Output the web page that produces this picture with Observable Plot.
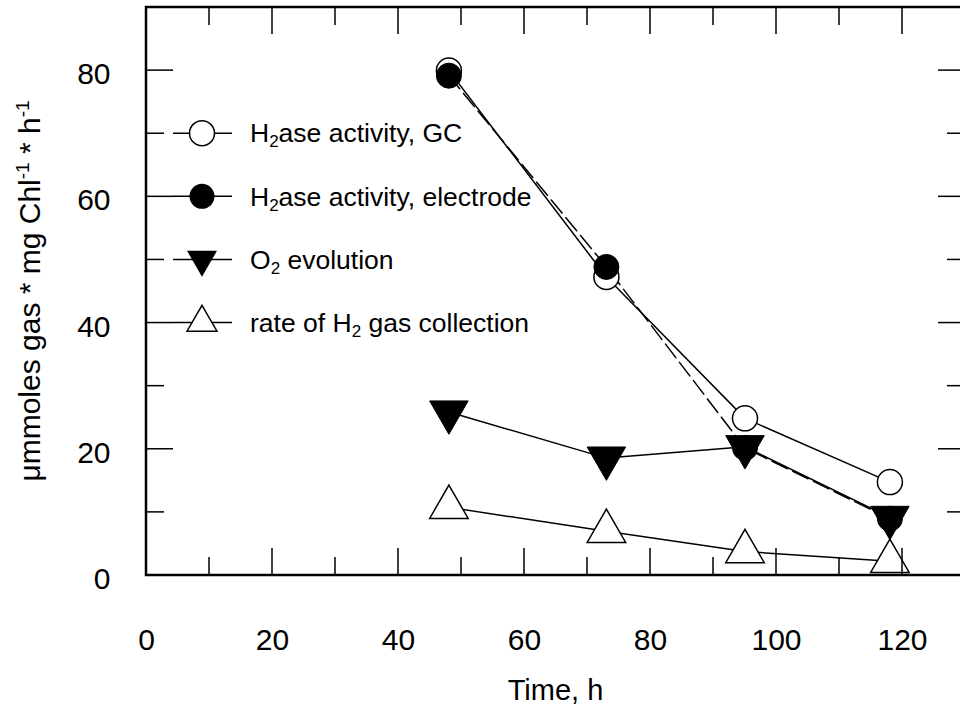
<!DOCTYPE html>
<html>
<head>
<meta charset="utf-8">
<script src="https://cdn.jsdelivr.net/npm/d3@7"></script>
<script src="https://cdn.jsdelivr.net/npm/@observablehq/plot@0.6"></script>
<style>
  html, body { margin: 0; padding: 0; background: #fff; }
  #chart { width: 960px; height: 706px; overflow: hidden; }
  svg { font-family: "Liberation Sans", Arial, sans-serif; }
</style>
</head>
<body>
<div id="chart"></div>
<script>
// ---- data ----
const times = [48, 73, 95, 118];
const gcActivity = [80.0, 47.3, 24.9, 14.8];
const electrodeActivity = [79.2, 48.9, 20.2, 9.0];
const o2Evolution = [25.9, 18.6, 20.4, 9.2];
const h2Collection = [10.8, 7.0, 3.8, 2.25];
const xTickValues = [0, 20, 40, 60, 80, 100, 120];
const xMinorTicks = [10, 30, 50, 70, 90, 110, 130];
const yTickValues = [0, 20, 40, 60, 80];
const yMinorTicks = [10, 30, 50, 70, 90];
const legendNames = ["H2ase activity, GC", "H2ase activity, electrode", "O2 evolution", "rate of H2 gas collection"];
const legendRows = [70, 60, 50, 40];
const xTitle = "Time, h";

(function () {
const toRows = vals => times.map((t, i) => ({t, v: vals[i]}));
const gc = toRows(gcActivity);
const el = toRows(electrodeActivity);
const o2 = toRows(o2Evolution);
const h2 = toRows(h2Collection);

const FONT = "Liberation Sans, Arial, sans-serif";
const triR = 14.3;
const cirR = 12.5;

const chart = Plot.plot({
  width: 960,
  height: 706,
  marginLeft: 146,
  marginRight: -5,
  marginTop: 7,
  marginBottom: 131,
  style: {fontFamily: FONT, background: "white", color: "black", overflow: "hidden"},
  x: {domain: [0, 130]},
  y: {domain: [0, 90]},
  marks: [
    Plot.axisX(xTickValues, {tickSize: 0, tickPadding: 53, fontSize: 30, label: null, tickFormat: d => String(d)}),
    Plot.axisY(yTickValues, {tickSize: 0, tickPadding: 36, fontSize: 30, label: null, dy: 4, tickFormat: d => String(d)}),
    Plot.line(gc, {x: "t", y: "v", stroke: "black", strokeWidth: 1.5}),
    Plot.line(el, {x: "t", y: "v", stroke: "black", strokeWidth: 1.5, strokeDasharray: "17,6"}),
    Plot.line(o2, {x: "t", y: "v", stroke: "black", strokeWidth: 1.5}),
    Plot.line(h2, {x: "t", y: "v", stroke: "black", strokeWidth: 1.5}),
    Plot.dot(h2, {x: "t", y: "v", symbol: "triangle", r: triR, fill: "white", stroke: "black", strokeWidth: 1.5}),
    Plot.dot(o2, {x: "t", y: "v", symbol: "triangle", r: triR, fill: "black", stroke: "black", strokeWidth: 1, rotate: 180}),
    Plot.dot(gc, {x: "t", y: "v", r: cirR, fill: "white", stroke: "black", strokeWidth: 1.5}),
    Plot.dot(el, {x: "t", y: "v", r: cirR, fill: "black", stroke: "black", strokeWidth: 1})
  ]
});
document.getElementById("chart").appendChild(chart);

// ---- frame, inward ticks, legend, titles (using the plot's own scales) ----
const xs = chart.scale("x"), ys = chart.scale("y");
const X = v => xs.apply(v), Y = v => ys.apply(v);
const fLeft = X(0), fRight = X(130), fBottom = Y(0), fTop = Y(90);
const svg = d3.select(chart);
const g = svg.append("g").attr("stroke", "black").attr("fill", "none");
const MAJ = 27, MIN = 18;

for (const [vals, len] of [[xTickValues, MAJ], [xMinorTicks, MIN]]) {
  for (const v of vals) {
    g.append("line").attr("x1", X(v)).attr("x2", X(v)).attr("y1", fBottom).attr("y2", fBottom - len).attr("stroke-width", 1.5);
    g.append("line").attr("x1", X(v)).attr("x2", X(v)).attr("y1", fTop).attr("y2", fTop + len).attr("stroke-width", 1.5);
  }
}
for (const [vals, len] of [[yTickValues, MAJ], [yMinorTicks, MIN]]) {
  for (const v of vals) {
    g.append("line").attr("y1", Y(v)).attr("y2", Y(v)).attr("x1", fLeft).attr("x2", fLeft + len).attr("stroke-width", 1.5);
    g.append("line").attr("y1", Y(v)).attr("y2", Y(v)).attr("x1", fRight).attr("x2", fRight - len).attr("stroke-width", 1.5);
  }
}
g.append("rect").attr("x", fLeft).attr("y", fTop).attr("width", fRight - fLeft).attr("height", fBottom - fTop).attr("stroke-width", 2.5);

// legend
const lg = svg.append("g").attr("text-anchor", "start");
const lx0 = fLeft + 27, lx1 = fLeft + 86, lm = fLeft + 56, lt = fLeft + 104;
const symTri = d3.symbol(d3.symbolTriangle2, Math.PI * triR * triR);
const markers = [
  sel => sel.append("circle").attr("r", cirR).attr("fill", "white").attr("stroke", "black").attr("stroke-width", 1.5),
  sel => sel.append("circle").attr("r", cirR).attr("fill", "black"),
  sel => sel.append("path").attr("d", symTri()).attr("transform", "rotate(180)").attr("fill", "black"),
  sel => sel.append("path").attr("d", symTri()).attr("fill", "white").attr("stroke", "black").attr("stroke-width", 1.5)
];
legendNames.forEach((name, i) => {
  const y = Y(legendRows[i]);
  lg.append("line").attr("x1", lx0).attr("x2", lx1).attr("y1", y).attr("y2", y).attr("stroke", "black").attr("stroke-width", 1.5);
  markers[i](lg.append("g").attr("transform", `translate(${lm},${y})`));
  const t = lg.append("text").attr("x", lt).attr("y", y).attr("dy", "0.35em").attr("text-anchor", "start")
    .attr("font-size", 26.5).attr("font-family", FONT).attr("fill", "black");
  const k = name.indexOf("2");
  t.append("tspan").text(name.slice(0, k));
  t.append("tspan").attr("font-size", 17).attr("dy", 5).text("2");
  t.append("tspan").attr("dy", -5).text(name.slice(k + 1));
});

// x title
svg.append("text").attr("x", (fLeft + fRight) / 2).attr("y", 700).attr("text-anchor", "middle")
  .attr("font-size", 29).attr("font-family", FONT).attr("fill", "black").text(xTitle);

// y title
const yt = svg.append("text").attr("transform", `translate(40,${(fTop + fBottom) / 2}) rotate(-90)`)
  .attr("text-anchor", "middle").attr("font-size", 30).attr("font-family", FONT).attr("fill", "black");
yt.append("tspan").text("\u03bcmmoles gas * mg Chl");
yt.append("tspan").attr("font-size", 19).attr("dy", -11).text("-1");
yt.append("tspan").attr("dy", 11).text(" * h");
yt.append("tspan").attr("font-size", 19).attr("dy", -11).text("-1");
})();
</script>
</body>
</html>
